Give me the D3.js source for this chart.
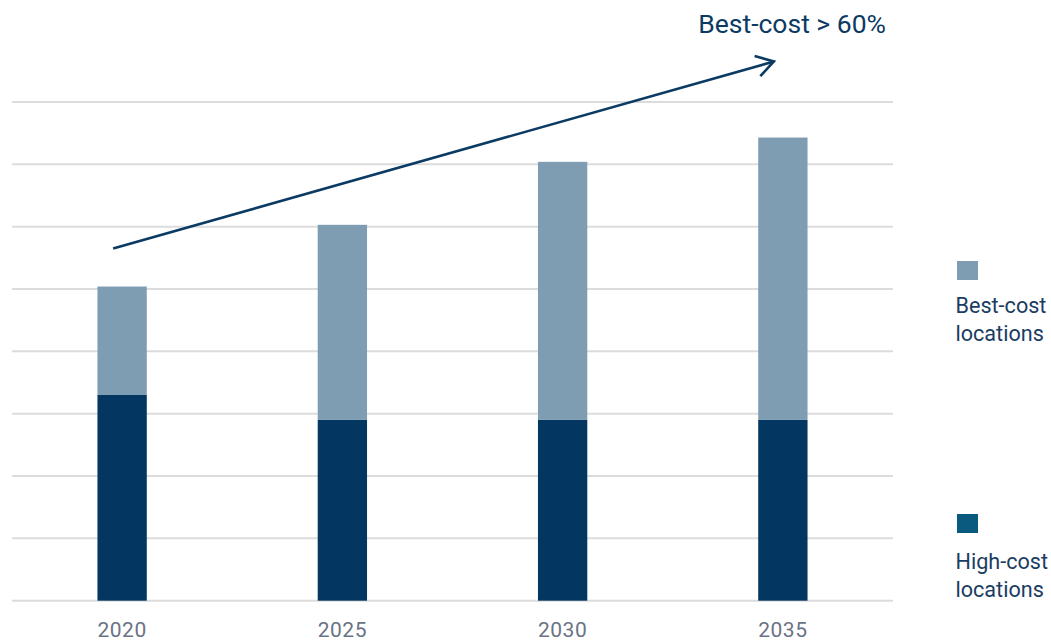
<!DOCTYPE html>
<html>
<head>
<meta charset="utf-8">
<script src="https://cdn.jsdelivr.net/npm/d3@7"></script>
<style>
  html, body { margin: 0; padding: 0; background: #fff; }
  svg { display: block; font-family: Roboto, "Noto Sans", sans-serif; }
</style>
</head>
<body>
<svg id="chart" width="1051" height="640"></svg>
<script>
// Share of locations by year (stacked)
const years = ["2020", "2025", "2030", "2035"];
const highCost = [33, 29, 29, 29];
const bestCost = [17.4, 31.3, 41.4, 45.3];
const yTicks = [0, 10, 20, 30, 40, 50, 60, 70, 80];
const seriesNames = ["Best-cost\nlocations", "High-cost\nlocations"];
const annotation = "Best-cost > 60%";

const svg = d3.select("#chart");
const plotLeft = 12, plotRight = 893, plotTop = 102, plotBottom = 600.7;

const x = d3.scaleBand().domain(years).range([plotLeft, plotRight]);
const y = d3.scaleLinear().domain([0, 80]).range([plotBottom, plotTop]);
const barW = x.bandwidth() * 0.224;

// Gridlines
svg.append("g").selectAll("line").data(yTicks).join("line")
  .attr("x1", plotLeft).attr("x2", plotRight)
  .attr("y1", d => y(d)).attr("y2", d => y(d))
  .attr("stroke", "#dcdcdc").attr("stroke-width", 2);

const rows = years.map((yr, i) => ({ year: yr, high: highCost[i], best: bestCost[i] }));
const stack = d3.stack().keys(["high", "best"])(rows);
const colors = { high: "#033762", best: "#7f9db2" };

svg.append("g").selectAll("g").data(stack).join("g")
  .attr("fill", d => colors[d.key])
  .selectAll("rect").data(d => d).join("rect")
  .attr("x", d => x(d.data.year) + x.bandwidth() / 2 - barW / 2)
  .attr("width", barW)
  .attr("y", d => y(d[1]))
  .attr("height", d => y(d[0]) - y(d[1]));

// Year labels
const xAxis = d3.axisBottom(x).tickSize(0).tickPadding(0);
const gx = svg.append("g").attr("transform", `translate(0,${plotBottom + 21})`).call(xAxis);
gx.select(".domain").remove();
gx.selectAll("text")
  .attr("fill", "#6a7385")
  .attr("font-size", 21)
  .attr("font-family", "Roboto, sans-serif")
  .attr("dy", "0.71em")
  .style("letter-spacing", "0.5px");

// Trend arrow
const a0 = [x("2020") + x.bandwidth() / 2 - 9, y(56.5)];
const a1 = [x("2035") + x.bandwidth() / 2 - 9, y(86.5)];
const ang = Math.atan2(a1[1] - a0[1], a1[0] - a0[0]);
svg.append("line")
  .attr("x1", a0[0]).attr("y1", a0[1]).attr("x2", a1[0]).attr("y2", a1[1])
  .attr("stroke", "#0b3a63").attr("stroke-width", 2.6);
const head = 20, spread = 0.55;
svg.append("path")
  .attr("d", `M${a1[0] - head * Math.cos(ang - spread)},${a1[1] - head * Math.sin(ang - spread)}
              L${a1[0]},${a1[1]}
              L${a1[0] - head * Math.cos(ang + spread)},${a1[1] - head * Math.sin(ang + spread)}`)
  .attr("fill", "none").attr("stroke", "#0b3a63").attr("stroke-width", 2.6)
  .attr("stroke-linejoin", "miter");

svg.append("text")
  .attr("x", 886).attr("y", 33)
  .attr("text-anchor", "end")
  .attr("fill", "#0b3a63")
  .attr("font-size", 26.5)
  .text(annotation);

// Legend
const legend = [
  { name: seriesNames[0], color: "#7f9db2", sy: 261, ty: 313 },
  { name: seriesNames[1], color: "#0a5a80", sy: 514, ty: 569 }
];
const lg = svg.append("g").selectAll("g").data(legend).join("g");
lg.append("rect")
  .attr("x", 957).attr("y", d => d.sy)
  .attr("width", 21).attr("height", 19)
  .attr("fill", d => d.color);
lg.append("text")
  .attr("x", 955.5).attr("y", d => d.ty)
  .attr("fill", "#1b3d62")
  .attr("font-size", 21.6)
  .selectAll("tspan").data(d => d.name.split("\n")).join("tspan")
  .attr("x", 955.5).attr("dy", (d, i) => i ? 28 : 0)
  .text(d => d);
</script>
</body>
</html>
